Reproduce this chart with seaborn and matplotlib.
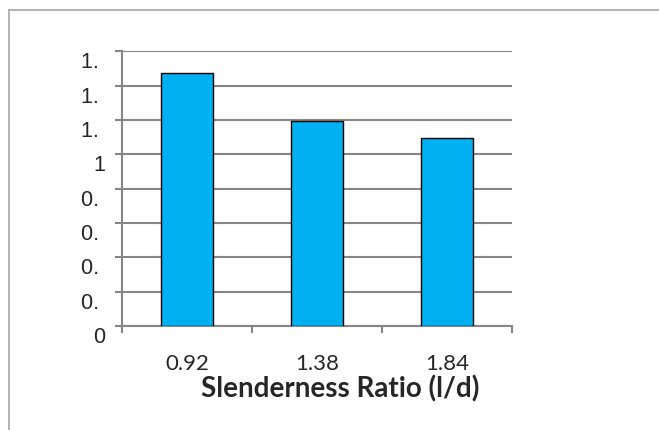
import seaborn as sns
import matplotlib.pyplot as plt
import pandas as pd
from matplotlib.lines import Line2D
from matplotlib.transforms import ScaledTranslation

# data
ratios = ['0.92', '1.38', '1.84']
values = [1.47, 1.195, 1.095]
y_ticks = [0, 0.2, 0.4, 0.6, 0.8, 1.0, 1.2, 1.4, 1.6]
y_labels = ['0', '0. ', '0. ', '0. ', '0. ', '1', '1. ', '1. ', '1. ']

df = pd.DataFrame({'ratio': ratios, 'value': values})

sns.set_style('white')
plt.rcParams['font.family'] = ['Lato', 'DejaVu Sans']

fig = plt.figure(figsize=(6.59, 4.30), dpi=100)
ax = fig.add_axes([0.185, 0.242, 0.592, 0.639])

sns.barplot(data=df, x='ratio', y='value', color='#00B0F0', width=0.4,
            saturation=1, edgecolor='black', linewidth=1, ax=ax, zorder=3)

ax.set_ylim(0, 1.6)
ax.set_xlim(-0.5, 2.5)
ax.set_yticks(y_ticks)
ax.set_yticklabels(y_labels, fontsize=15.5, family='Liberation Sans')
ax.yaxis.grid(True, color='#868686', linewidth=1.5, zorder=0)
ax.tick_params(axis='y', left=True, length=5, width=1.5, color='#868686', pad=7)
# the truncated labels sit a little below their gridlines
shift = ScaledTranslation(0, -0.09, fig.dpi_scale_trans)
for lab in ax.get_yticklabels():
    lab.set_transform(lab.get_transform() + shift)

# x ticks sit on the category boundaries
ax.set_xticks([-0.5, 0.5, 1.5, 2.5], minor=True)
ax.tick_params(axis='x', which='minor', bottom=True, length=5, width=1.5,
               color='#868686', direction='out')
ax.tick_params(axis='x', which='major', length=0, labelsize=16, pad=20)

ax.set_xlabel('Slenderness Ratio (l/d)', fontsize=20, fontweight='bold')
ax.xaxis.set_label_coords(0.559, -0.229)
ax.xaxis.label.set_va('center')
ax.set_ylabel('')

for side in ['top', 'right']:
    ax.spines[side].set_visible(False)
for side in ['left', 'bottom']:
    ax.spines[side].set_color('#868686')
    ax.spines[side].set_linewidth(1.5)

# chart area border (only top and left visible)
fig.add_artist(Line2D([9 / 659, 9 / 659], [0, 1 - 10 / 430], color='#A6A6A6', lw=1.2))
fig.add_artist(Line2D([9 / 659, 1], [1 - 10 / 430, 1 - 10 / 430], color='#A6A6A6', lw=1.2))

fig.savefig('out.png', dpi=100)
